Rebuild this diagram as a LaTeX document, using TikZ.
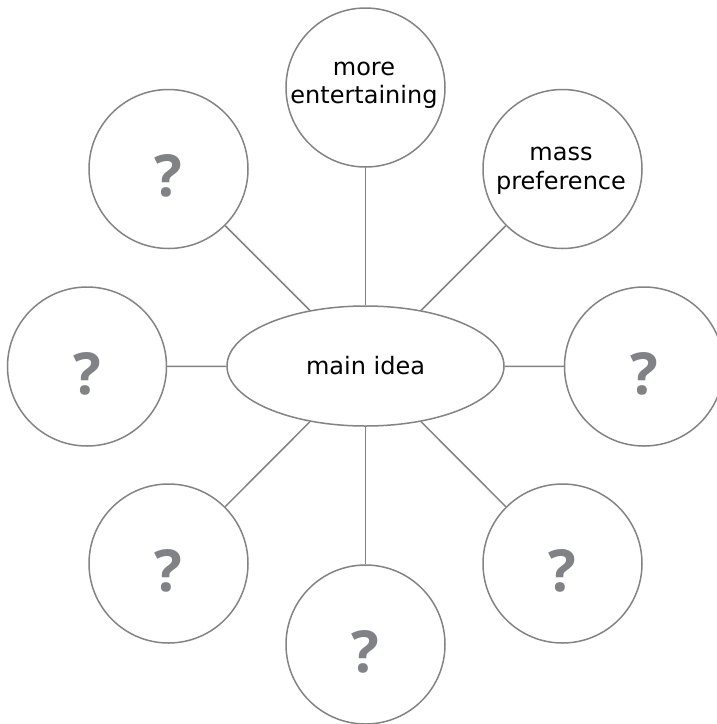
\documentclass[tikz,border=0pt]{standalone}
\usepackage{fontspec}
\setmainfont{DejaVu Sans}
\newfontfamily\qfont{Open Sans}
\usetikzlibrary{shapes.geometric}
\definecolor{edgegray}{HTML}{838383}
\definecolor{qgray}{HTML}{808285}
\begin{document}
\begin{tikzpicture}[x=1pt,y=-1pt,
  bubble/.style={circle,draw=edgegray,line width=1.5pt,minimum size=159pt,inner sep=0pt,fill=white},
  hub/.style={ellipse,draw=edgegray,line width=1.5pt,minimum width=277pt,minimum height=120pt,inner sep=0pt,fill=white,font=\fontsize{24}{28}\selectfont},
  conn/.style={draw=edgegray,line width=1.5pt},
  qmark/.style={font=\qfont\bfseries\fontsize{58}{60}\selectfont,text=qgray,inner sep=0pt,yshift=-7pt},
  txt/.style={font=\fontsize{24}{28}\selectfont,anchor=base,inner sep=0pt}]
\useasboundingbox (0,0) rectangle (717,724);
\node[hub] (m) at (365.5,366) {main idea};
\node[bubble] (t)  at (365.5,87.5) {};
\node[bubble] (tr) at (562.5,169) {};
\node[bubble] (r)  at (644,366.5) {};
\node[bubble] (br) at (562.5,563.5) {};
\node[bubble] (b)  at (365.5,644.5) {};
\node[bubble] (bl) at (168.5,563.5) {};
\node[bubble] (l)  at (87,366.5) {};
\node[bubble] (tl) at (168.5,169) {};
\foreach \n in {t,tr,r,br,b,bl,l,tl} \draw[conn] (m) -- (\n);
\node[txt] (t1) at (364,75) {more};
\node[txt] (t2) at (364,103) {entertaining};
\node[txt] (p1) at (561,160) {mass};
\node[txt] (p2) at (561,189) {preference};
\node[qmark] (qr)  at (r)  {?};
\node[qmark] (qbr) at (br) {?};
\node[qmark] (qb)  at (b)  {?};
\node[qmark] (qbl) at (bl) {?};
\node[qmark] (ql)  at (l)  {?};
\node[qmark] (qtl) at (tl) {?};
\end{tikzpicture}
\end{document}
